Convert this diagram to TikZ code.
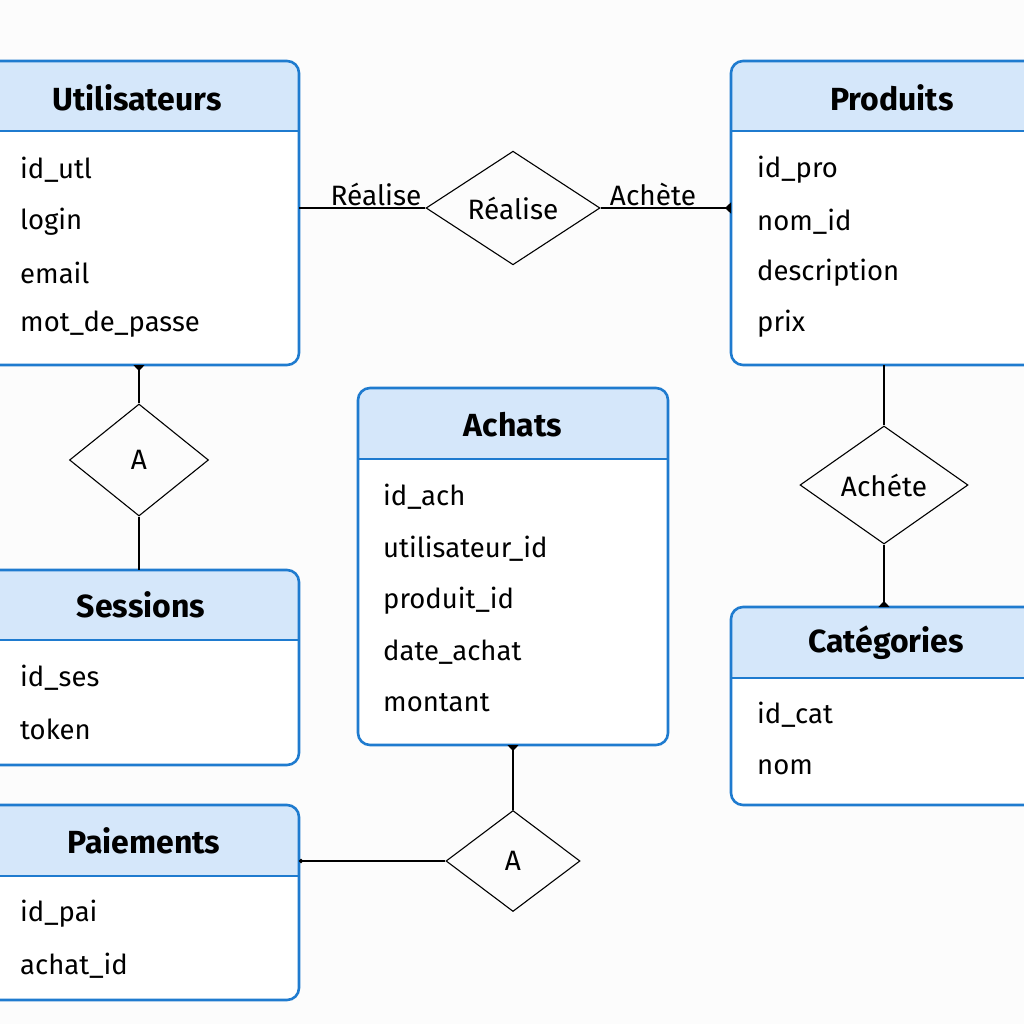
\documentclass[tikz,border=0pt]{standalone}
\usepackage{fontspec}
\setmainfont{Fira Sans}
\usetikzlibrary{shapes.geometric,arrows.meta}
\definecolor{hdrblue}{HTML}{D5E7FA}
\definecolor{lineblue}{HTML}{1F7BCF}
\tikzset{
  hdr/.style={fill=hdrblue},
  tblline/.style={draw=lineblue, line width=2.6pt},
  ttl/.style={font=\bfseries\fontsize{32}{36}\selectfont, inner sep=0pt, anchor=center},
  fld/.style={font=\fontsize{27.5}{30}\selectfont, inner sep=0pt, anchor=west},
  lbl/.style={font=\fontsize{28}{30}\selectfont, inner sep=0pt, anchor=center},
  rel/.style={diamond, draw=black, line width=1.1pt, inner sep=0pt, font=\fontsize{28}{30}\selectfont},
  conn/.style={draw=black, line width=1.3pt},
  tip/.style={-{Triangle[reversed,width=11pt,length=6pt]}},
}
\newcommand\ertable[9]{%
  \node[inner sep=0pt, outer sep=0pt, minimum width={(#4-#2)*1pt}, minimum height={(#5-#3)*1pt}] (#1) at ({(#2+#4)/2},{(#3+#5)/2}) {};
  \fill[white, rounded corners=12pt] (#2,#3) rectangle (#4,#5);
  \begin{scope}
    \clip[rounded corners=12pt] (#2,#3) rectangle (#4,#5);
    \fill[hdr] (#2,#3) rectangle (#4,#6);
  \end{scope}
  \draw[tblline] (#2,#6) -- (#4,#6);
  \draw[tblline, rounded corners=12pt] (#2,#3) rectangle (#4,#5);
  \node[ttl] (#1-t) at (#7,#8) {#9};
}
\begin{document}
\begin{tikzpicture}[x=1pt,y=-1pt]
\useasboundingbox[fill=white!98!gray] (0,0) rectangle (1024,1024);

% Tables
\ertable{U}{-12}{61}{299}{365}{131}{137}{98}{Utilisateurs}
\node[fld] (u1) at (20,170) {id\_utl};
\node[fld] (u2) at (20,222) {login};
\node[fld] (u3) at (20,273) {email};
\node[fld] (u4) at (20,324) {mot\_de\_passe};

\ertable{P}{731}{61}{1036}{365}{131}{892}{98}{Produits}
\node[fld] (p1) at (757,170) {id\_pro};
\node[fld] (p2) at (757,222) {nom\_id};
\node[fld] (p3) at (757,273) {description};
\node[fld] (p4) at (757,324) {prix};

\ertable{Ach}{358}{388}{668}{745}{459}{513}{425}{Achats}
\node[fld] (a1) at (383,497) {id\_ach};
\node[fld] (a2) at (383,549) {utilisateur\_id};
\node[fld] (a3) at (383,601) {produit\_id};
\node[fld] (a4) at (383,652) {date\_achat};
\node[fld] (a5) at (383,703) {montant};

\ertable{S}{-12}{570}{299}{765}{640}{141}{605}{Sessions}
\node[fld] (s1) at (20,678) {id\_ses};
\node[fld] (s2) at (20,729) {token};

\ertable{C}{731}{607}{1036}{805}{678}{886}{643}{Catégories}
\node[fld] (c1) at (757,715) {id\_cat};
\node[fld] (c2) at (757,767) {nom};

\ertable{Pa}{-12}{805}{299}{1000}{876}{144}{841}{Paiements}
\node[fld] (pa1) at (20,914) {id\_pai};
\node[fld] (pa2) at (20,966) {achat\_id};

% Relationships
\node[rel, minimum width=174pt, minimum height=111pt] (R1) at (513,208) {Réalise};
\node[rel, minimum width=139pt, minimum height=112pt] (R2) at (139,460) {A};
\node[rel, minimum width=168pt, minimum height=118pt] (R3) at (884,485) {Achéte};
\node[rel, minimum width=134pt, minimum height=101pt] (R4) at (513,861) {A};

% Connectors
\draw[conn] (R1.west) -- (R1.west -| U.east);
\draw[conn, tip] (R1.east) -- (R1.east -| P.west);
\draw[conn, tip] (R2.north) -- (R2.north |- U.south);
\draw[conn] (R2.south) -- (R2.south |- S.north);
\draw[conn] (R3.north) -- (R3.north |- P.south);
\draw[conn, tip] (R3.south) -- (R3.south |- C.north);
\draw[conn, tip] (R4.north) -- (R4.north |- Ach.south);
\draw[conn, -{Circle[length=4pt]}] (R4.west) -- (R4.west -| Pa.east);

% Connector labels
\node[lbl] (l1) at (376,194) {Réalise};
\node[lbl] (l2) at (653,194) {Achète};
\end{tikzpicture}
\end{document}
